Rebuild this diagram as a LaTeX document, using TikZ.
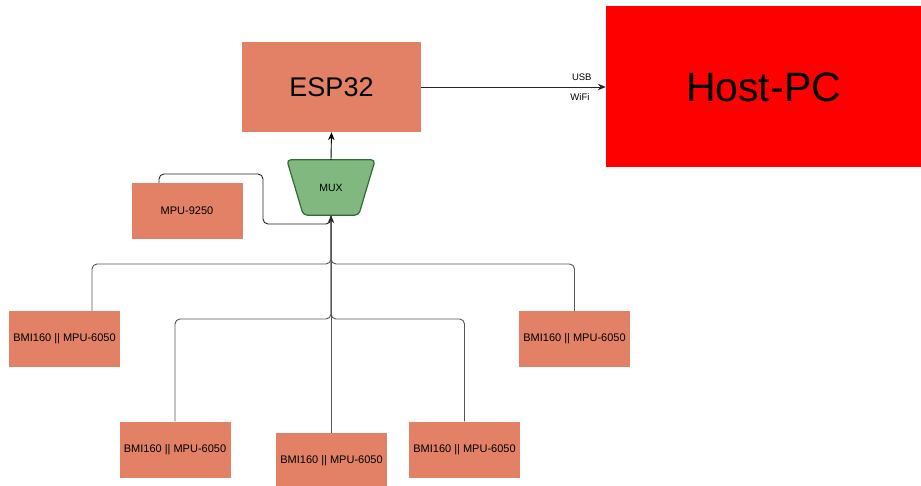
\documentclass[tikz,border=0pt]{standalone}
\usepackage{fontspec}
\setmainfont{Liberation Sans}
\usetikzlibrary{arrows.meta}
\definecolor{salmon}{RGB}{227,129,103}
\definecolor{muxfill}{RGB}{128,184,128}
\definecolor{muxdraw}{RGB}{52,105,52}
\definecolor{edgegray}{RGB}{85,85,85}
\begin{document}
\begin{tikzpicture}[x=1pt,y=-1pt,
  box/.style={fill=salmon, inner sep=0pt, align=center, font=\fontsize{11}{13}\selectfont},
  sbox/.style={box, minimum width=111pt, minimum height=56pt},
  edge/.style={draw=edgegray, line width=0.9pt, rounded corners=5pt},
  tip/.style={-{Stealth[length=8pt,width=6.5pt]}},
  lbl/.style={font=\fontsize{9.5}{11}\selectfont, inner sep=0pt}]
\useasboundingbox (0,0) rectangle (921,486);
\clip (0,0) rectangle (921,486);

% nodes
\node[box, minimum width=179pt, minimum height=90pt, font=\fontsize{27}{30}\selectfont] (esp) at (331.5,87) {ESP32};
\node[fill=red, minimum width=315pt, minimum height=161pt, inner sep=0pt, font=\fontsize{41}{46}\selectfont] (host) at (763.5,87) {Host-PC};
\node[minimum width=88pt, minimum height=55pt, inner sep=0pt] (mux) at (331,187.5) {};
\draw[fill=muxfill, draw=muxdraw, line width=1.2pt, rounded corners=4pt]
  (mux.north west) -- (mux.north east) -- ([xshift=-16.5pt]mux.south east) -- ([xshift=16.5pt]mux.south west) -- cycle;
\node[font=\fontsize{10.5}{12}\selectfont, inner sep=0pt] (muxlbl) at (mux.center) {MUX};
\node[sbox] (mpu) at (187,211) {MPU-9250};
\node[sbox] (b1) at (64.5,339) {BMI160 {||} MPU-6050};
\node[sbox] (b5) at (574.5,339) {BMI160 {||} MPU-6050};
\node[sbox] (b2) at (175,449.5) {BMI160 {||} MPU-6050};
\node[sbox] (b3) at (331.5,461) {BMI160 {||} MPU-6050};
\node[sbox] (b4) at (464.5,449.5) {BMI160 {||} MPU-6050};

% helper coordinates
\coordinate (h1) at (0,264);
\coordinate (h2) at (0,319);
\coordinate (m1) at (263,174);
\coordinate (m2) at (0,224);

% connectors from sensors
\draw[edge] ([xshift=27.5pt]b1.north) |- (mux.south |- h1) -- (mux.south);
\draw[edge] (b5.north) |- (mux.south |- h1) -- (mux.south);
\draw[edge] (b2.north) |- (mux.south |- h2) -- (mux.south);
\draw[edge] (b4.north) |- (mux.south |- h2) -- (mux.south);
\draw[edge] ([xshift=-0.5pt]b3.north) -- (mux.south);
\draw[edge, tip, draw=black!85] ([xshift=-28pt]mpu.north) |- (m1) |- (mux.south |- m2) -- (mux.south);

% mux to esp
\draw[tip, line width=0.9pt] (mux.north) -- (esp.south);

% esp to host
\draw[tip, line width=0.9pt, draw=black!85] (esp.east) -- (host.west)
  node[lbl, pos=0.87, above=6pt] (usb) {USB}
  node[lbl, pos=0.86, below=6pt] (wifi) {WiFi};
\end{tikzpicture}
\end{document}
